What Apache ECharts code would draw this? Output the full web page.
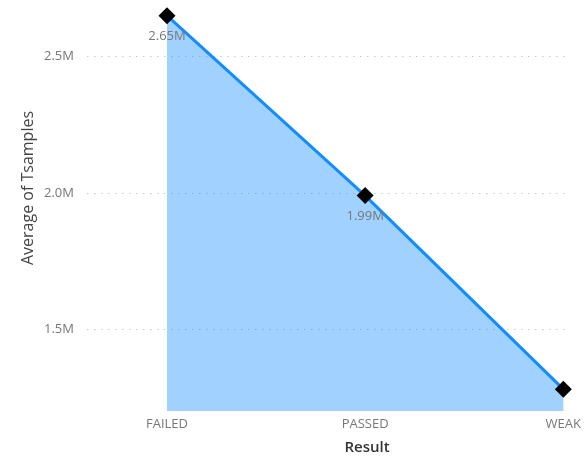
<!DOCTYPE html>
<html>
<head>
<meta charset="utf-8">
<script src="https://cdn.jsdelivr.net/npm/echarts@6/dist/echarts.min.js"></script>
<style>
  html, body { margin: 0; padding: 0; background: #fff; }
  #chart { width: 584px; height: 456px; }
</style>
</head>
<body>
<div id="chart"></div>
<script>
// Average of Tsamples (in millions) by test result
const categories = ['FAILED', 'PASSED', 'WEAK'];
const avgSamples = [2.65, 1.99, 1.28];
const showValueLabel = [true, true, false];
const yTicks = [1.5, 2.0, 2.5];
const yMin = 1.2;
const yMax = 2.7;

const FONT = '"Open Sans", "Noto Sans", sans-serif';
const chart = echarts.init(document.getElementById('chart'), null, { renderer: 'canvas' });

const seriesData = avgSamples.map((v, i) => ({
  value: v,
  label: { show: showValueLabel[i] }
}));

chart.setOption({
  animation: false,
  backgroundColor: '#ffffff',
  grid: [
    // wide grid carrying the value axis labels and dotted gridlines
    { left: 87, right: 18, top: 2, bottom: 45 },
    // plot grid for the category axis and the area line
    { left: 167, right: 18, top: 2, bottom: 45 }
  ],
  xAxis: [
    { gridIndex: 0, type: 'value', show: false, min: 0, max: 1 },
    {
      gridIndex: 1,
      type: 'category',
      data: categories,
      boundaryGap: false,
      axisLine: { show: false },
      axisTick: { show: false },
      axisLabel: { color: '#777777', fontSize: 13, fontFamily: FONT, margin: 7 }
    }
  ],
  yAxis: [
    {
      gridIndex: 0,
      type: 'value',
      min: yMin,
      max: yMax,
      axisLine: { show: false },
      axisTick: { show: false, customValues: yTicks },
      axisLabel: {
        customValues: yTicks,
        color: '#777777',
        fontSize: 13,
        fontFamily: FONT,
        margin: 13,
        formatter: v => v.toFixed(1) + 'M'
      },
      splitLine: {
        show: true,
        lineStyle: { color: '#c8c8c8', width: 1, type: [1.5, 5.5] }
      }
    },
    {
      gridIndex: 1,
      type: 'value',
      min: yMin,
      max: yMax,
      show: false,
      splitLine: { show: false }
    }
  ],
  series: [
    {
      type: 'line',
      xAxisIndex: 1,
      yAxisIndex: 1,
      data: seriesData,
      symbol: 'diamond',
      symbolSize: 17,
      itemStyle: { color: '#000000' },
      lineStyle: { color: '#118DFF', width: 3 },
      areaStyle: { color: '#118DFF', opacity: 0.4, origin: 'start' },
      label: {
        position: 'bottom',
        distance: 6,
        color: '#777777',
        fontSize: 13,
        fontFamily: FONT,
        formatter: p => p.value.toFixed(2) + 'M'
      },
      z: 3
    }
  ],
  graphic: [
    {
      type: 'text',
      x: 28,
      y: 188,
      rotation: Math.PI / 2,
      style: {
        text: 'Average of Tsamples',
        fill: '#444444',
        font: '16px ' + FONT,
        align: 'center',
        verticalAlign: 'middle'
      }
    },
    {
      type: 'text',
      x: 367,
      y: 448,
      style: {
        text: 'Result',
        fill: '#333333',
        font: '600 15px ' + FONT,
        align: 'center',
        verticalAlign: 'middle'
      }
    }
  ]
});
</script>
</body>
</html>
